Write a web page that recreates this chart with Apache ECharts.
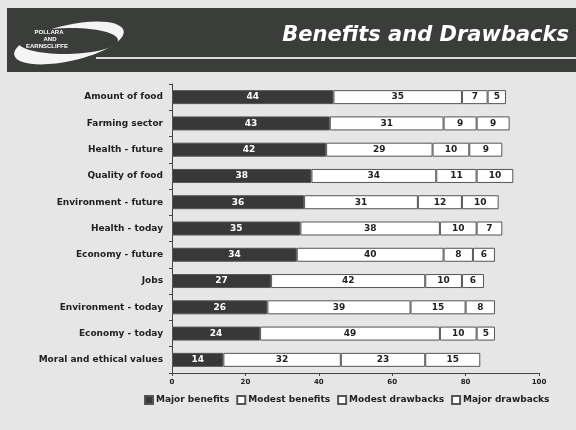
<!DOCTYPE html>
<html>
<head>
<meta charset="utf-8">
<script src="https://cdn.jsdelivr.net/npm/echarts@6/dist/echarts.min.js"></script>
<style>
  html, body { margin: 0; padding: 0; background: #e6e6e6; }
  #chart { width: 576px; height: 430px; }
</style>
</head>
<body>
<div id="chart"></div>
<script>
// Survey topics, listed top to bottom
const categories = [
  'Amount of food', 'Farming sector', 'Health - future', 'Quality of food',
  'Environment - future', 'Health - today', 'Economy - future', 'Jobs',
  'Environment - today', 'Economy - today', 'Moral and ethical values'
];
const seriesNames = ['Major benefits', 'Modest benefits', 'Modest drawbacks', 'Major drawbacks'];
const majorBenefits   = [44, 43, 42, 38, 36, 35, 34, 27, 26, 24, 14];
const modestBenefits  = [35, 31, 29, 34, 31, 38, 40, 42, 39, 49, 32];
const modestDrawbacks = [7, 9, 10, 11, 12, 10, 8, 10, 15, 10, 23];
const majorDrawbacks  = [5, 9, 9, 10, 10, 7, 6, 6, 8, 5, 15];
const xTicks = [0, 20, 40, 60, 80, 100];

const chart = echarts.init(document.getElementById('chart'), null, { renderer: 'canvas' });

const font = '"DejaVu Sans", "Liberation Sans", sans-serif';
const logoFont = 'bold 6px "Liberation Sans Narrow", "Liberation Sans", sans-serif';
const bandColor = '#3b3d3b';

function barSeries(name, values, dark) {
  return {
    name: name,
    type: 'bar',
    stack: 'total',
    barWidth: 14,
    data: values,
    itemStyle: {
      color: dark ? '#383838' : '#ffffff',
      borderColor: '#555555',
      borderWidth: 1
    },
    label: {
      show: true,
      position: 'inside',
      color: dark ? '#ffffff' : '#222222',
      fontFamily: font,
      fontWeight: 'bold',
      fontSize: 9
    },
    emphasis: { disabled: true }
  };
}

chart.setOption({
  animation: false,
  backgroundColor: '#e6e6e6',
  textStyle: { fontFamily: font },
  graphic: [
    // header band
    { type: 'rect', shape: { x: 7, y: 8, width: 569, height: 64 }, style: { fill: bandColor } },
    // logo swoosh: tilted white ellipse cut by a flatter dark one
    { type: 'ellipse', shape: { cx: 69, cy: 43, rx: 56, ry: 18 }, rotation: 0.22, originX: 69, originY: 43, style: { fill: '#f4f4f4' } },
    { type: 'ellipse', shape: { cx: 68, cy: 41, rx: 50, ry: 13 }, rotation: 0.02, originX: 68, originY: 41, style: { fill: bandColor } },
    { type: 'text', style: { x: 49, y: 32, text: 'POLLARA', fill: '#ffffff', font: logoFont, align: 'center', verticalAlign: 'middle' } },
    { type: 'text', style: { x: 50, y: 39, text: 'AND', fill: '#ffffff', font: logoFont, align: 'center', verticalAlign: 'middle' } },
    { type: 'text', style: { x: 47, y: 46, text: 'EARNSCLIFFE', fill: '#ffffff', font: logoFont, align: 'center', verticalAlign: 'middle' } },
    // rule under title
    { type: 'rect', shape: { x: 96, y: 57, width: 480, height: 2 }, style: { fill: '#dcdcdc' } },
    // title
    { type: 'text', style: { x: 569, y: 36, text: 'Benefits and Drawbacks', fill: '#ffffff', font: 'italic bold 21px "DejaVu Sans", sans-serif', align: 'right', verticalAlign: 'middle' } }
  ],
  grid: { left: 172, right: 37, top: 84, height: 289, containLabel: false },
  xAxis: {
    type: 'value',
    min: 0,
    max: 100,
    interval: 20,
    axisLine: { show: true, lineStyle: { color: '#444444', width: 1 } },
    axisTick: { show: true, length: 3, lineStyle: { color: '#444444' } },
    splitLine: { show: false },
    axisLabel: {
      color: '#222222', fontSize: 7, fontWeight: 'bold', margin: 6,
      formatter: v => xTicks.includes(v) ? String(v) : ''
    }
  },
  yAxis: {
    type: 'category',
    data: categories,
    inverse: true,
    axisLine: { show: true, lineStyle: { color: '#444444', width: 1 } },
    axisTick: { show: true, length: 3, lineStyle: { color: '#444444' } },
    axisLabel: { color: '#222222', fontSize: 9, fontWeight: 'bold', margin: 9 }
  },
  legend: {
    data: seriesNames,
    left: 139,
    top: 390,
    itemWidth: 8,
    itemHeight: 8,
    itemGap: 7,
    icon: 'rect',
    textStyle: { color: '#222222', fontSize: 9, fontWeight: 'bold', padding: [0, 0, 0, -2] }
  },
  series: [
    barSeries(seriesNames[0], majorBenefits, true),
    barSeries(seriesNames[1], modestBenefits, false),
    barSeries(seriesNames[2], modestDrawbacks, false),
    barSeries(seriesNames[3], majorDrawbacks, false)
  ]
});
</script>
</body>
</html>
